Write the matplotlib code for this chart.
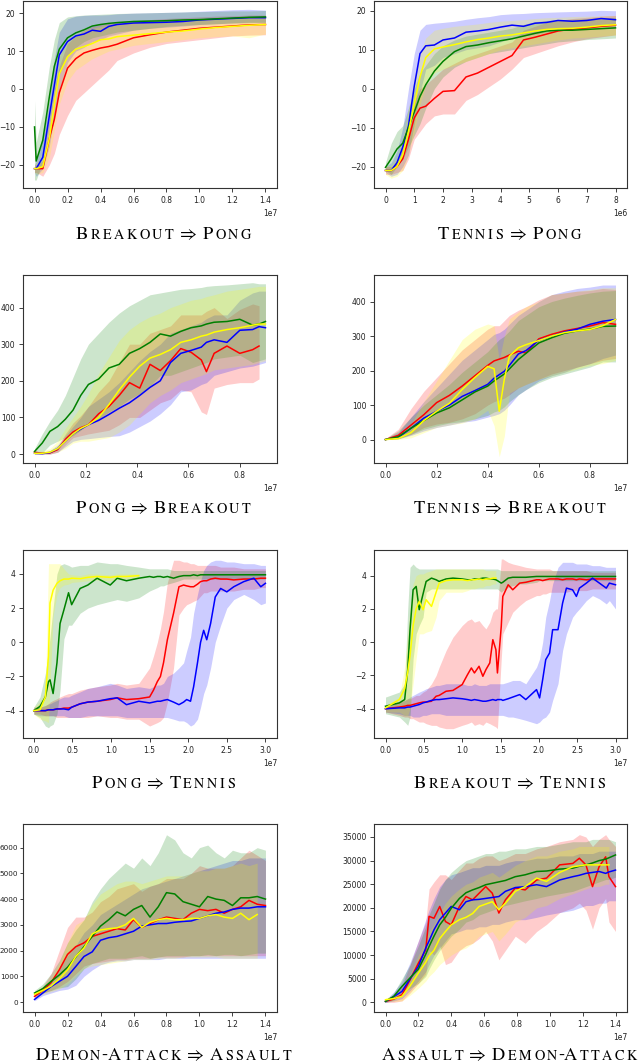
import numpy as np
import matplotlib
matplotlib.use("Agg")
import matplotlib.pyplot as plt
import matplotlib.transforms as mtransforms
from matplotlib.ticker import ScalarFormatter
from matplotlib.font_manager import findfont, FontProperties
from matplotlib.ft2font import FT2Font, LoadFlags

# ---------------------------------------------------------------- data
# x positions in millions of steps; each series: mean, lower band, upper band

# Breakout => Pong
BP_X = [0, 0.1, 0.5, 0.9, 1.2, 1.5, 2.0, 2.5, 3.0, 3.5, 4.0, 4.5, 5.0, 6.0, 7.0, 8.0, 9.0, 10.0, 11.0, 12.0, 13.0, 14.0]
BP_RED = [-21, -21, -21, -13, -8, -1, 5.5, 8, 9.5, 10.2, 10.8, 11.2, 11.8, 13.5, 14.3, 15.0, 15.5, 16.0, 16.3, 16.6, 16.9, 17.0]
BP_RED_LO = [-22, -22, -23, -20, -17, -12, -7, -3, -1, 1, 3, 5, 7.5, 9.5, 11, 12, 12.5, 13, 13.5, 14, 14.2, 14.3]
BP_RED_HI = [-20, -20, -19, -8, 0, 6, 12, 14, 15.5, 16.5, 17, 17.3, 17.6, 18, 18.3, 18.6, 18.8, 19, 19.2, 19.3, 19.5, 19.5]
BP_BLUE = [-21, -21, -18, -7, 1, 9, 12.5, 14.0, 14.5, 15.5, 15.2, 16.5, 17.0, 17.4, 17.5, 17.6, 17.8, 18.2, 18.4, 18.6, 18.8, 18.8]
BP_BLUE_LO = [-22, -23, -21, -15, -7, 0, 7, 10, 11, 12.5, 13, 14, 14.5, 15.5, 16, 16.3, 16.6, 17, 17.2, 17.4, 17.6, 17.6]
BP_BLUE_HI = [-20, -19, -13, -3, 8, 15, 18.5, 19.2, 19.4, 19.5, 19.5, 19.6, 19.8, 20, 20.1, 20.2, 20.3, 20.5, 20.7, 20.9, 21.0, 20.8]
BP_GREEN = [-10, -19, -13.5, -2, 6, 10.5, 13.5, 14.8, 15.6, 16.6, 17.0, 17.3, 17.5, 17.8, 17.9, 18.0, 18.2, 18.3, 18.5, 18.7, 18.9, 19.0]
BP_GREEN_LO = [-24, -24, -19, -9, -1, 4, 9, 11, 12.5, 13.5, 14, 14.5, 15, 15.5, 16, 16.5, 16.8, 17, 17.2, 17.4, 17.5, 17.5]
BP_GREEN_HI = [-3, -14, -6, 6, 13, 17.5, 19, 19.3, 19.5, 19.6, 19.7, 19.8, 19.9, 20.0, 20.1, 20.2, 20.3, 20.4, 20.5, 20.6, 20.6, 20.7]
BP_YELLOW = [-21, -21, -20.5, -13, -4, 4, 8.5, 10.5, 11.2, 12.0, 13.0, 13.2, 13.8, 14.2, 14.6, 15.0, 15.3, 15.8, 16.2, 16.5, 16.8, 17.0]
BP_YELLOW_LO = [-22, -22.5, -22, -18, -11, -4, 2, 5, 6.5, 8, 9, 10, 10.5, 11.5, 12, 12.5, 13, 13.5, 13.8, 14, 13.5, 14.5]
BP_YELLOW_HI = [-20, -19.5, -18, -8, 2, 9, 13, 14.5, 15.5, 16, 16.5, 17, 17.3, 17.6, 17.8, 18, 18.2, 18.4, 18.6, 18.8, 19, 19.2]

# Tennis => Pong
TP_X = [0, 0.2, 0.4, 0.6, 0.8, 1.0, 1.2, 1.4, 1.7, 2.0, 2.4, 2.8, 3.2, 3.6, 4.0, 4.4, 4.8, 5.2, 5.6, 6.0, 6.5, 7.0, 7.5, 8.0]
TP_RED = [-21, -21, -20, -18, -13, -7.5, -5, -4.5, -2.5, -0.7, -0.5, 3, 4.0, 5.5, 7, 8.5, 12.5, 13.2, 14, 14.8, 15.3, 15.6, 16, 16.3]
TP_RED_LO = [-22, -22, -21.5, -21, -18, -13, -11, -9, -7, -6.5, -6.5, -3, -1.5, 0.5, 2.5, 5, 8, 9, 10, 11, 12, 12.8, 13.3, 13.8]
TP_RED_HI = [-20, -20, -19, -15, -9, -3, 0, 1, 3, 5, 6.5, 8, 9, 10, 11, 12, 15, 16, 17, 17.5, 18, 18.3, 18.6, 18.8]
TP_BLUE = [-21, -21, -19, -15, -9.5, 0.6, 9, 11, 11.2, 12.5, 13, 14.5, 14.8, 15.2, 15.8, 16.3, 16.0, 16.8, 17.0, 17.5, 17.3, 17.5, 18.0, 17.7]
TP_BLUE_LO = [-21.5, -22.5, -22, -20, -17, -9, -1, 5, 6, 8, 9, 10, 10.5, 11, 12, 13, 13.5, 14, 14.5, 15, 15.5, 15.5, 16, 15.8]
TP_BLUE_HI = [-20, -19, -16, -10, 0, 9, 15, 16.5, 16.8, 17, 17.3, 17.8, 18.2, 18.5, 19, 19.2, 19.3, 19.5, 19.6, 19.7, 19.8, 19.9, 20.1, 20.0]
TP_GREEN = [-20.2, -18, -15.5, -14, -10, -6, -2, 1, 4.5, 7, 9.5, 10.8, 11.2, 11.8, 12.3, 12.8, 13.5, 14.2, 14.8, 15.0, 15.0, 15.2, 15.4, 15.6]
TP_GREEN_LO = [-21, -22, -20, -18, -15, -12, -9, -5, 0, 3, 5.5, 7, 8, 9, 9.5, 10, 10.5, 11, 11.5, 12, 12.3, 12.6, 12.8, 13]
TP_GREEN_HI = [-19, -14, -11, -9.5, -5, 0, 4, 6, 9, 11, 12.5, 13.5, 14, 14.5, 15, 15.5, 16.5, 17.2, 17.5, 17.7, 17.8, 18, 18.2, 18.3]
TP_YELLOW = [-21, -21, -20, -17, -11, -4, 3, 8, 10.2, 10.7, 11.3, 12.0, 12.6, 13, 13.5, 13.8, 14.3, 14.8, 15.2, 15.4, 15.5, 15.8, 16.2, 16.4]
TP_YELLOW_LO = [-22, -23, -22.5, -21, -17, -11, -4, 1, 4, 5, 6, 7, 8, 9, 10, 10.5, 11, 11.5, 12, 12.5, 13, 13.2, 13.5, 13.8]
TP_YELLOW_HI = [-20, -19.5, -18, -13, -5, 3, 9, 13, 15, 15.5, 16, 16.3, 16.6, 17, 17.3, 17.5, 17.7, 18, 18.2, 18.3, 18.5, 18.6, 18.7, 18.8]

# Pong => Breakout
PB_X = [0, 0.3, 0.6, 0.9, 1.2, 1.5, 1.8, 2.1, 2.5, 2.9, 3.3, 3.7, 4.1, 4.5, 4.9, 5.3, 5.7, 6.1, 6.5, 6.7, 7.0, 7.5, 8.0, 8.5, 8.75, 9.0]
PB_RED = [5, 2, 3, 12, 40, 60, 72, 80, 110, 130, 160, 195, 180, 245, 228, 255, 288, 278, 257, 225, 275, 295, 275, 285, 295]
PB_RED_LO = [0, 0, 0, 5, 25, 45, 50, 55, 60, 65, 80, 100, 100, 120, 140, 150, 175, 170, 115, 108, 180, 190, 195, 195, 205]
PB_RED_HI = [8, 5, 8, 20, 55, 85, 105, 130, 170, 200, 250, 300, 300, 330, 340, 350, 380, 380, 380, 390, 400, 370, 395, 410, 405]
PB_BLUE = [2, 1, 4, 15, 35, 55, 68, 80, 92, 108, 125, 140, 160, 182, 200, 250, 275, 283, 292, 305, 312, 305, 338, 340, 348, 345]
PB_BLUE_LO = [0, 0, 0, 5, 20, 35, 40, 42, 45, 48, 50, 60, 75, 90, 110, 135, 170, 175, 190, 195, 215, 225, 235, 240, 245, 250]
PB_BLUE_HI = [5, 5, 10, 25, 50, 75, 100, 130, 150, 170, 195, 225, 255, 280, 300, 330, 340, 350, 360, 370, 380, 380, 420, 440, 445, 445]
PB_GREEN = [7, 30, 62, 75, 95, 120, 160, 190, 205, 235, 245, 275, 288, 305, 328, 322, 335, 345, 350, 355, 360, 362, 368, 352, 355, 362]
PB_GREEN_LO = [0, 3, 25, 35, 45, 50, 65, 85, 95, 115, 130, 150, 165, 185, 215, 215, 225, 235, 245, 250, 260, 265, 270, 250, 255, 260]
PB_GREEN_HI = [15, 55, 90, 120, 160, 210, 260, 300, 330, 360, 385, 405, 420, 435, 440, 445, 450, 452, 455, 458, 460, 462, 465, 468, 465, 465]
PB_YELLOW = [2, 2, 5, 15, 35, 55, 70, 80, 100, 135, 175, 210, 240, 262, 272, 285, 305, 312, 322, 325, 333, 340, 345, 352, 355, 355]
PB_YELLOW_LO = [0, 0, 0, 5, 15, 30, 35, 35, 40, 45, 60, 80, 110, 140, 160, 175, 195, 205, 215, 220, 230, 235, 240, 245, 250, 255]
PB_YELLOW_HI = [5, 8, 15, 35, 70, 100, 130, 165, 220, 265, 310, 340, 360, 375, 385, 400, 410, 420, 425, 430, 435, 445, 450, 455, 458, 458]

# Tennis => Breakout
TB_X = [0, 0.5, 1.0, 1.5, 2.0, 2.5, 3.0, 3.5, 4.0, 4.25, 4.45, 4.65, 4.85, 5.2, 5.5, 6.0, 6.5, 7.0, 7.5, 8.0, 8.5, 9.0]
TB_RED = [0, 12, 42, 72, 107, 128, 155, 185, 215, 228, 233, 238, 245, 256, 251, 292, 305, 315, 322, 329, 339, 334]
TB_RED_LO = [0, 3, 15, 35, 45, 50, 60, 75, 100, 110, 115, 120, 130, 150, 160, 175, 190, 200, 210, 220, 230, 235]
TB_RED_HI = [3, 30, 90, 140, 180, 220, 260, 290, 320, 330, 330, 345, 360, 375, 385, 405, 420, 425, 430, 432, 438, 435]
TB_BLUE = [0, 6, 33, 62, 82, 100, 125, 142, 160, 178, 188, 198, 215, 248, 258, 288, 300, 312, 320, 334, 343, 348]
TB_BLUE_LO = [0, 2, 12, 25, 35, 42, 50, 55, 65, 70, 75, 85, 100, 130, 145, 170, 185, 195, 210, 220, 235, 245]
TB_BLUE_HI = [3, 20, 65, 110, 150, 190, 230, 260, 290, 305, 310, 320, 335, 360, 375, 400, 420, 430, 438, 442, 448, 448]
TB_GREEN = [0, 8, 33, 55, 77, 92, 115, 138, 155, 170, 180, 190, 205, 232, 250, 280, 295, 308, 315, 320, 328, 329]
TB_GREEN_LO = [0, 2, 15, 30, 40, 48, 52, 60, 70, 80, 85, 95, 110, 130, 145, 165, 180, 190, 200, 210, 225, 225]
TB_GREEN_HI = [3, 25, 65, 100, 130, 160, 195, 225, 255, 275, 290, 300, 315, 345, 360, 385, 400, 410, 418, 425, 430, 432]
TB_YELLOW = [0, 3, 20, 55, 82, 105, 145, 180, 212, 205, 82, 175, 242, 266, 275, 287, 300, 310, 315, 319, 330, 348]
TB_YELLOW_LO = [0, 0, 5, 20, 35, 42, 48, 60, 85, 40, -50, 10, 135, 150, 160, 175, 185, 195, 205, 215, 220, 230]
TB_YELLOW_HI = [3, 12, 45, 110, 170, 230, 290, 320, 335, 330, 230, 300, 350, 370, 385, 400, 420, 425, 430, 435, 440, 440]

# Pong => Tennis
PT_X = [0, 0.8, 1.5, 1.9, 2.1, 2.5, 3.0, 3.4, 3.9, 4.5, 4.9, 6.0, 7.0, 8.2, 9.9, 10.8, 12.0, 13.6, 15.0, 15.5,
        16.0, 16.4, 16.8, 17.3, 18.1, 18.8, 19.4, 19.8, 20.3, 20.7, 21.2, 21.6, 22.0, 22.4, 22.9, 23.5, 24.2, 25.0,
        25.9, 27.2, 28.5, 29.4, 30.0]
PT_RED = [-4, -4, -4, -3.95, -3.95, -3.95, -3.9, -3.9, -3.85, -3.85, -3.8, -3.6, -3.5, -3.45, -3.35, -3.25, -3.35,
          -3.3, -3.2, -2.8, -2.3, -2.0, -1.2, 0.15, 1.7, 3.25, 3.35, 3.3, 3.25, 3.25, 3.4, 3.55, 3.6, 3.6, 3.7,
          3.75, 3.7, 3.7, 3.65, 3.7, 3.7, 3.75, 3.75]
PT_RED_LO = [-4.2, -4.2, -4.3, -4.3, -4.3, -4.3, -4.4, -4.4, -4.4, -4.4, -4.4, -4.4, -4.4, -4.3, -4.4, -4.4, -4.5,
             -4.5, -4.9, -4.8, -4.7, -4.6, -4.4, -3.5, -1.5, 1.6, 2.0, 2.2, 2.3, 2.4, 2.5, 2.7, 2.9, 2.9, 3.0, 3.0,
             3.0, 3.0, 3.0, 3.1, 3.1, 3.2, 3.2]
PT_RED_HI = [-3.8, -3.8, -3.7, -3.6, -3.5, -3.4, -3.3, -3.2, -3.1, -3.0, -3.0, -2.8, -2.7, -2.6, -2.5, -2.4, -2.5,
             -2.4, -1.5, -0.8, 0, 0.8, 1.8, 3.5, 4.8, 4.8, 4.7, 4.7, 4.6, 4.6, 4.5, 4.5, 4.5, 4.5, 4.5, 4.5, 4.4,
             4.4, 4.4, 4.3, 4.3, 4.3, 4.3]
PT_BLUE = [-4, -4, -4, -3.95, -3.95, -3.95, -3.9, -3.9, -3.9, -3.95, -3.8, -3.6, -3.5, -3.45, -3.3, -3.25, -3.65,
           -3.45, -3.55, -3.5, -3.45, -3.45, -3.4, -3.35, -3.5, -3.65, -3.5, -3.35, -3.45, -2.6, -1.2, 0, 0.7, 0.15,
           1.1, 2.65, 3.15, 2.95, 3.25, 3.55, 3.75, 3.25, 3.45]
PT_BLUE_LO = [-4.2, -4.3, -4.3, -4.3, -4.3, -4.3, -4.3, -4.3, -4.3, -4.4, -4.4, -4.4, -4.3, -4.3, -4.3, -4.3, -4.4,
              -4.4, -4.4, -4.4, -4.4, -4.4, -4.4, -4.4, -4.5, -4.6, -4.6, -4.7, -4.9, -4.8, -4.5, -3.8, -3.0, -2.5,
              -1.5, 0.0, 1.0, 2.0, 2.5, 2.8, 2.5, 2.2, 2.3]
PT_BLUE_HI = [-3.8, -3.8, -3.7, -3.6, -3.6, -3.5, -3.4, -3.3, -3.2, -3.2, -3.1, -2.9, -2.7, -2.6, -2.4, -2.5, -2.7,
              -2.6, -2.7, -2.6, -2.5, -2.5, -2.4, -2.0, -1.8, -1.5, -1.2, -0.5, 0.3, 1.7, 2.8, 3.6, 4.2, 4.5, 4.7,
              4.8, 4.8, 4.7, 4.7, 4.6, 4.6, 4.5, 4.5]
PT_GREEN = [-4, -3.75, -3.2, -2.3, -2.2, -3.0, -1.2, 1.1, 1.9, 2.9, 2.2, 3.15, 3.35, 3.75, 3.35, 3.75, 3.6, 3.75,
            3.85, 3.8, 3.85, 3.85, 3.8, 3.85, 3.75, 3.85, 3.9, 3.9, 3.9, 3.95, 3.9, 3.95, 3.95, 3.95, 3.95, 3.95,
            3.95, 3.95, 3.95, 3.95, 3.95, 3.95, 3.95]
PT_GREEN_LO = [-4.2, -4.4, -4.9, -5.0, -4.9, -4.8, -4.2, -2.8, 0.2, 1.0, 1.0, 1.7, 2.0, 2.2, 2.4, 2.5, 2.4, 2.6,
               3.0, 3.1, 3.2, 3.3, 3.3, 3.4, 3.5, 3.6, 3.7, 3.7, 3.7, 3.7, 3.7, 3.7, 3.7, 3.7, 3.7, 3.7, 3.7, 3.7,
               3.7, 3.7, 3.7, 3.7, 3.7]
PT_GREEN_HI = [-3.8, -3.2, -1.8, -0.5, 0.3, 2.0, 4.0, 4.5, 4.6, 4.5, 4.4, 4.5, 4.5, 4.7, 4.6, 4.6, 4.5, 4.4, 4.3,
               4.3, 4.3, 4.3, 4.3, 4.3, 4.2, 4.2, 4.2, 4.2, 4.2, 4.2, 4.2, 4.2, 4.2, 4.2, 4.2, 4.2, 4.2, 4.2, 4.2,
               4.2, 4.2, 4.2, 4.2]
PT_YELLOW = [-4, -3.95, -3.2, -0.8, 2.3, 3.05, 3.45, 3.6, 3.7, 3.7, 3.75, 3.72, 3.8, 3.85, 3.8, 3.85, 3.85, 3.9]
PT_YELLOW_LO = [-4.2, -4.5, -4.6, -4.7, -2.5, 1.5, 2.8, 3.2, 3.35, 3.4, 3.5, 3.55, 3.6, 3.65, 3.6, 3.7, 3.7, 3.75]
PT_YELLOW_HI = [-3.8, -3.5, -2.8, 4.6, 4.6, 4.6, 4.6, 4.6, 4.3, 4.0, 3.95, 3.9, 4.0, 4.0, 3.95, 4.0, 4.0, 4.0]

# Breakout => Tennis
BT_X = [0, 1.8, 2.5, 2.9, 3.2, 3.6, 4.0, 4.4, 4.9, 5.3, 6.0, 6.6, 7.0, 7.9, 8.8, 10.0, 10.7, 11.2, 11.6, 12.2,
        12.7, 13.1, 13.6, 14.0, 14.4, 14.6, 15.1, 15.3, 16.0, 16.6, 17.5, 18.3, 19.7, 20.1, 20.5, 20.9, 21.4, 21.8,
        22.5, 23.1, 23.6, 24.4, 24.9, 25.3, 26.2, 27.0, 27.9, 28.8, 29.2, 30.0]
BT_RED = [-4, -3.9, -3.85, -3.8, -3.8, -3.75, -3.7, -3.65, -3.6, -3.6, -3.55, -3.25, -3.2, -2.95, -2.9, -2.55,
          -1.95, -1.55, -1.85, -1.45, -2.05, -1.65, -1.25, 0.15, -0.45, -1.85, 0.95, 2.75, 3.45, 3.15, 3.55, 3.6,
          3.75, 3.75, 3.7, 3.75, 3.8, 3.8, 3.8, 3.75, 3.8, 3.8, 3.75, 3.8, 3.75, 3.8, 3.8, 3.8, 3.8, 3.8]
BT_RED_LO = [-4.2, -4.4, -4.5, -4.5, -4.6, -4.6, -4.7, -4.8, -4.8, -4.9, -5.0, -5.0, -5.1, -5.2, -5.2, -5.0, -4.9,
             -4.8, -5.0, -4.9, -5.0, -4.8, -4.9, -5.0, -5.1, -5.2, -1.0, 0.5, 1.2, 1.8, 2.2, 2.5, 2.8, 2.8, 2.9,
             2.9, 3.0, 3.0, 3.0, 3.0, 3.0, 3.1, 3.1, 3.1, 3.1, 3.2, 3.2, 3.2, 3.2, 3.2]
BT_RED_HI = [-3.8, -3.6, -3.5, -3.4, -3.4, -3.3, -3.2, -3.2, -3.0, -2.9, -2.5, -2.0, -1.5, -0.5, 0.3, 1.0, 1.3,
             1.4, 1.2, 1.3, 1.0, 0.8, 1.2, 1.8, 2.0, 2.0, 5.0, 5.0, 4.8, 4.7, 4.6, 4.5, 4.4, 4.4, 4.4, 4.4, 4.4,
             4.3, 4.3, 4.3, 4.3, 4.3, 4.3, 4.3, 4.3, 4.2, 4.2, 4.2, 4.2, 4.2]
BT_BLUE = [-4, -3.95, -3.95, -3.9, -3.9, -3.85, -3.8, -3.75, -3.65, -3.6, -3.5, -3.45, -3.45, -3.4, -3.35, -3.4,
           -3.45, -3.5, -3.45, -3.5, -3.55, -3.55, -3.5, -3.45, -3.5, -3.45, -3.45, -3.5, -3.4, -3.3, -3.15, -3.45,
           -2.85, -3.35, -2.25, -1.05, -0.65, 0.75, 0.75, 2.35, 3.25, 3.15, 2.75, 3.25, 3.55, 3.85, 3.55, 3.25,
           3.55, 3.45]
BT_BLUE_LO = [-4.2, -4.3, -4.4, -4.4, -4.4, -4.5, -4.5, -4.5, -4.4, -4.4, -4.3, -4.3, -4.3, -4.4, -4.4, -4.4, -4.4,
              -4.4, -4.4, -4.4, -4.4, -4.4, -4.4, -4.4, -4.4, -4.4, -4.4, -4.4, -4.5, -4.5, -4.6, -4.7, -4.9, -4.8,
              -4.6, -4.5, -4.2, -3.5, -2.5, -0.5, 0.5, 1.5, 1.8, 2.0, 2.5, 2.8, 2.6, 2.3, 2.5, 2.0]
BT_BLUE_HI = [-3.8, -3.6, -3.5, -3.4, -3.3, -3.2, -3.1, -3.0, -2.9, -2.8, -2.7, -2.6, -2.6, -2.5, -2.5, -2.5, -2.6,
              -2.6, -2.5, -2.6, -2.6, -2.6, -2.5, -2.5, -2.5, -2.5, -2.5, -2.5, -2.4, -2.3, -2.3, -2.5, -1.5, -1.0,
              0.0, 1.5, 2.5, 3.5, 4.5, 4.8, 4.8, 4.8, 4.7, 4.7, 4.7, 4.6, 4.6, 4.5, 4.5, 4.5]
BT_GREEN = [-3.85, -3.65, -3.45, -1.65, 0.75, 3.15, 3.35, 1.95, 2.9, 3.65, 3.85, 3.75, 3.65, 3.8, 3.85, 3.8, 3.75,
            3.75, 3.8, 3.8, 3.85, 3.85, 3.8, 3.8, 3.75, 3.7, 3.55, 3.6, 3.85, 3.9, 3.9, 3.9, 3.95, 3.95, 3.95, 3.95,
            3.95, 3.95, 3.95, 3.95, 3.95, 3.95, 3.95, 3.95, 3.95, 3.95, 3.95, 3.95, 3.95, 3.95]
BT_GREEN_LO = [-4.3, -4.5, -4.8, -5.0, -4.5, -1.0, 0.5, 1.0, 1.5, 3.0, 3.2, 3.2, 3.2, 3.2, 3.2, 3.2, 3.2, 3.2, 3.2,
               3.2, 3.2, 3.2, 3.2, 3.2, 3.2, 3.2, 3.0, 3.1, 3.3, 3.4, 3.5, 3.5, 3.6, 3.7, 3.7, 3.7, 3.7, 3.7, 3.7,
               3.7, 3.7, 3.7, 3.7, 3.7, 3.7, 3.7, 3.7, 3.7, 3.7, 3.7]
BT_GREEN_HI = [-3.3, -3.0, -2.5, 2.0, 4.5, 4.7, 4.5, 4.4, 4.4, 4.4, 4.4, 4.4, 4.4, 4.4, 4.4, 4.4, 4.4, 4.4, 4.4,
               4.4, 4.4, 4.4, 4.4, 4.4, 4.4, 4.4, 4.3, 4.3, 4.3, 4.3, 4.3, 4.3, 4.3, 4.3, 4.3, 4.3, 4.3, 4.3, 4.3,
               4.3, 4.3, 4.3, 4.3, 4.3, 4.3, 4.3, 4.3, 4.3, 4.3, 4.3]
BT_YELLOW = [-3.95, -3.45, -2.8, -1.8, -0.8, 1.0, 2.0, 2.45, 1.95, 2.55, 2.15, 3.0, 3.55, 3.7, 3.75, 3.75, 3.7,
             3.75, 3.75, 3.8, 3.75, 3.8, 3.8, 3.85, 3.85]
BT_YELLOW_LO = [-4.2, -4.2, -4.4, -4.4, -4.0, -2.5, -1.0, 0.5, 0.5, 0.6, 0.7, 1.5, 2.5, 3.0, 3.0, 3.0, 3.1, 3.2,
                3.2, 3.3, 3.3, 3.4, 3.4, 3.5, 3.5]
BT_YELLOW_HI = [-3.8, -3.3, -1.5, 0.5, 2.0, 3.5, 4.0, 4.1, 4.1, 4.2, 4.3, 4.4, 4.4, 4.4, 4.4, 4.4, 4.4, 4.4, 4.4,
                4.4, 4.4, 4.3, 4.3, 4.3, 4.3]

# Demon-Attack => Assault
DA_X = [0, 0.5, 1.0, 1.5, 2.0, 2.5, 3.0, 3.5, 4.0, 4.5, 5.0, 5.5, 6.0, 6.5, 7.0, 7.5, 8.0, 8.5, 9.0, 9.5, 10.0,
        10.5, 11.0, 11.5, 12.0, 12.5, 13.0, 13.5, 14.0]
DA_RED = [220, 450, 750, 1250, 1850, 2150, 2300, 2550, 2650, 2750, 2850, 2800, 3200, 2900, 3050, 3200, 3300, 3250,
          3200, 3450, 3600, 3550, 3600, 3450, 3600, 3700, 3950, 3800, 3750]
DA_RED_LO = [150, 350, 450, 600, 800, 1100, 1400, 1500, 1550, 1600, 1650, 1650, 1700, 1700, 1700, 1750, 1750, 1750,
             1750, 1800, 1800, 1800, 1800, 1800, 1800, 1800, 1800, 1800, 1800]
DA_RED_HI = [350, 600, 1100, 2000, 2900, 3300, 3300, 3500, 3900, 4100, 4400, 4500, 4600, 4300, 4500, 4600, 4800,
             4800, 4800, 5000, 5300, 5200, 5200, 5200, 5300, 5600, 5900, 5700, 5500]
DA_BLUE = [100, 350, 600, 800, 1000, 1380, 1770, 1950, 2400, 2500, 2550, 2650, 2750, 2950, 3000, 3050, 3050, 3100,
           3130, 3150, 3250, 3350, 3450, 3500, 3600, 3650, 3650, 3700, 3700]
DA_BLUE_LO = [50, 250, 350, 450, 500, 650, 1000, 1250, 1450, 1550, 1600, 1600, 1650, 1650, 1650, 1650, 1700, 1700,
              1700, 1700, 1700, 1700, 1700, 1700, 1700, 1700, 1700, 1700, 1700]
DA_BLUE_HI = [300, 500, 850, 1300, 1800, 2200, 2700, 3000, 3400, 3600, 3800, 4000, 4200, 4400, 4500, 4600, 4700,
              4800, 4900, 5000, 5100, 5200, 5300, 5400, 5500, 5500, 5600, 5600, 5600]
DA_GREEN = [350, 520, 800, 1050, 1350, 1750, 2150, 2550, 2950, 3200, 3500, 3350, 3600, 3750, 3300, 3700, 4250,
            4200, 3900, 3800, 3700, 4100, 4000, 3950, 3750, 4050, 4050, 4100, 4000]
DA_GREEN_LO = [250, 350, 450, 550, 600, 900, 1300, 1500, 1600, 1700, 1700, 1700, 1750, 1800, 1700, 1750, 1800,
               1800, 1800, 1800, 1800, 1850, 1800, 1850, 1850, 1800, 1850, 1900, 1900]
DA_GREEN_HI = [450, 700, 1100, 1600, 2300, 2800, 3200, 3900, 4400, 4800, 5100, 5400, 5200, 5600, 5300, 5800, 6500,
               6300, 5800, 5600, 6000, 6100, 5800, 5600, 5900, 5800, 5800, 6000, 5900]
DA_YELLOW = [300, 450, 620, 900, 1250, 1770, 2100, 2650, 2800, 2850, 2880, 3000, 3250, 2900, 3100, 3200, 3250,
             3200, 3200, 3250, 3250, 3350, 3400, 3300, 3250, 3450, 3200, 3400]
DA_YELLOW_LO = [200, 300, 400, 500, 700, 1000, 1300, 1400, 1450, 1500, 1550, 1600, 1650, 1650, 1650, 1700, 1700,
                1700, 1750, 1750, 1750, 1750, 1750, 1700, 1700, 1700, 1700, 1700]
DA_YELLOW_HI = [400, 600, 900, 1500, 2300, 3000, 3200, 3800, 4200, 4400, 4600, 4700, 4700, 4600, 4700, 4800, 4900,
                4900, 4900, 5000, 5100, 5100, 5200, 5200, 5300, 5400, 5300, 5400]

# Assault => Demon-Attack
AD_X = [0, 0.5, 1.0, 1.5, 2.0, 2.45, 2.65, 2.95, 3.3, 3.65, 4.0, 4.5, 4.9, 5.3, 5.7, 6.1, 6.5, 6.9, 7.3, 7.9, 8.5,
        9.2, 9.8, 10.6, 11.4, 11.8, 12.2, 12.6, 13.0, 13.4, 13.6, 14.0]
AD_RED = [200, 700, 1600, 4800, 8300, 11100, 18200, 17800, 20300, 17100, 16400, 20300, 22400, 21700, 23100, 24500,
          23100, 18900, 21700, 24200, 23800, 25900, 26300, 29100, 29400, 30500, 29100, 24500, 28700, 30800, 26600,
          24500]
AD_RED_LO = [0, 0, 300, 2000, 4000, 6000, 11000, 10000, 12000, 8000, 8500, 11000, 12000, 12500, 13500, 15000, 13000,
             9000, 11000, 14000, 12500, 15000, 16500, 19000, 20000, 21000, 19500, 15500, 20000, 22000, 17000, 15000]
AD_RED_HI = [600, 1500, 3500, 8000, 13000, 17000, 24000, 25500, 27000, 27000, 26000, 28000, 29500, 29500, 30500,
             31000, 31000, 30000, 30500, 31500, 31500, 32500, 33000, 34000, 34500, 35500, 35000, 33000, 34500, 35500,
             34500, 33000]
AD_BLUE = [200, 1200, 2300, 5000, 7600, 11500, 13000, 15350, 17500, 18900, 20300, 19600, 21300, 21700, 21800, 22000,
           22200, 22400, 23500, 24300, 24500, 24900, 24500, 25900, 26600, 26900, 27300, 27500, 27700, 27300, 27600,
           28000]
AD_BLUE_LO = [0, 300, 800, 2500, 4500, 6500, 8000, 10000, 11500, 13000, 14500, 15000, 15500, 15500, 16000, 16000,
              16500, 16500, 17000, 17500, 17500, 18000, 18500, 19000, 19500, 20000, 20500, 20500, 21000, 21000,
              21500, 21500]
AD_BLUE_HI = [500, 2200, 4500, 8500, 13000, 17500, 19500, 22000, 24500, 26000, 27000, 27500, 28000, 28500, 28500,
              29000, 29000, 29000, 29500, 30000, 30000, 30500, 30500, 31000, 31000, 31500, 31500, 31500, 32000,
              32000, 32000, 32000]
AD_GREEN = [200, 1270, 3380, 5200, 7000, 10200, 11800, 14000, 16400, 18000, 19900, 22000, 23200, 23800, 24300,
            24900, 25200, 25500, 25800, 26600, 27000, 27700, 27800, 28200, 28400, 28800, 29100, 29500, 30000, 30300,
            30600, 31200]
AD_GREEN_LO = [0, 500, 1800, 3000, 4000, 5500, 7000, 9000, 11000, 12500, 14000, 15500, 17000, 17500, 18500, 19000,
               19500, 20000, 20500, 21000, 21500, 22000, 22500, 23000, 23500, 24000, 24500, 25000, 25500, 26000,
               26000, 26500]
AD_GREEN_HI = [500, 2000, 5000, 8000, 12000, 16000, 18500, 21000, 24000, 26000, 27500, 29000, 30000, 30500, 31000,
               31500, 31500, 32000, 32000, 32500, 32500, 33000, 33000, 33500, 34000, 34000, 34000, 34500, 34500,
               34500, 34500, 34000]
AD_YELLOW = [560, 800, 1270, 3500, 6200, 8500, 9800, 11000, 13500, 15000, 16400, 17500, 18000, 18800, 20300, 20800,
             21300, 19600, 21000, 23500, 24500, 26300, 25600, 27500, 28700, 28900, 29100, 29100, 29100, 29100, 29100]
AD_YELLOW_LO = [200, 200, 300, 1500, 3000, 4500, 5500, 6500, 8000, 9000, 10000, 11000, 11500, 12500, 14000, 14500,
                15000, 13000, 14500, 17000, 18000, 20000, 20500, 22000, 23000, 23500, 24000, 24500, 24500, 25000,
                25000]
AD_YELLOW_HI = [900, 1500, 2500, 6000, 10000, 13000, 15000, 16500, 19000, 21000, 22500, 24000, 25000, 25500, 26500,
                27000, 27500, 26500, 27500, 29000, 30000, 31000, 31000, 32000, 32500, 33000, 33000, 33000, 33000,
                33000, 33000]

COLORS = ["red", "blue", "green", "#ffff00"]

PANELS = [
    dict(src="Breakout", dst="Pong", x=BP_X,
         series=[(BP_RED, BP_RED_LO, BP_RED_HI), (BP_BLUE, BP_BLUE_LO, BP_BLUE_HI),
                 (BP_GREEN, BP_GREEN_LO, BP_GREEN_HI), (BP_YELLOW, BP_YELLOW_LO, BP_YELLOW_HI)],
         xlim=(-0.7e6, 14.7e6), ylim=(-26.1, 23.2),
         xticks=[0, 2e6, 4e6, 6e6, 8e6, 10e6, 12e6, 14e6], yticks=[-20, -10, 0, 10, 20], power=7),
    dict(src="Tennis", dst="Pong", x=TP_X,
         series=[(TP_RED, TP_RED_LO, TP_RED_HI), (TP_BLUE, TP_BLUE_LO, TP_BLUE_HI),
                 (TP_GREEN, TP_GREEN_LO, TP_GREEN_HI), (TP_YELLOW, TP_YELLOW_LO, TP_YELLOW_HI)],
         xlim=(-0.4e6, 8.4e6), ylim=(-25.5, 22.5),
         xticks=[0, 1e6, 2e6, 3e6, 4e6, 5e6, 6e6, 7e6, 8e6], yticks=[-20, -10, 0, 10, 20], power=6),
    dict(src="Pong", dst="Breakout", x=PB_X,
         series=[(PB_RED, PB_RED_LO, PB_RED_HI), (PB_BLUE, PB_BLUE_LO, PB_BLUE_HI),
                 (PB_GREEN, PB_GREEN_LO, PB_GREEN_HI), (PB_YELLOW, PB_YELLOW_LO, PB_YELLOW_HI)],
         xlim=(-0.45e6, 9.45e6), ylim=(-24.5, 489),
         xticks=[0, 2e6, 4e6, 6e6, 8e6], yticks=[0, 100, 200, 300, 400], power=7),
    dict(src="Tennis", dst="Breakout", x=TB_X,
         series=[(TB_RED, TB_RED_LO, TB_RED_HI), (TB_BLUE, TB_BLUE_LO, TB_BLUE_HI),
                 (TB_GREEN, TB_GREEN_LO, TB_GREEN_HI), (TB_YELLOW, TB_YELLOW_LO, TB_YELLOW_HI)],
         xlim=(-0.45e6, 9.45e6), ylim=(-68, 477),
         xticks=[0, 2e6, 4e6, 6e6, 8e6], yticks=[0, 100, 200, 300, 400], power=7),
    dict(src="Pong", dst="Tennis", x=PT_X,
         series=[(PT_RED, PT_RED_LO, PT_RED_HI), (PT_BLUE, PT_BLUE_LO, PT_BLUE_HI),
                 (PT_GREEN, PT_GREEN_LO, PT_GREEN_HI), (PT_YELLOW, PT_YELLOW_LO, PT_YELLOW_HI)],
         xlim=(-1.4e6, 31.5e6), ylim=(-5.6, 5.4),
         xticks=[0, 5e6, 10e6, 15e6, 20e6, 25e6, 30e6], yticks=[-4, -2, 0, 2, 4], power=7),
    dict(src="Breakout", dst="Tennis", x=BT_X,
         series=[(BT_RED, BT_RED_LO, BT_RED_HI), (BT_BLUE, BT_BLUE_LO, BT_BLUE_HI),
                 (BT_GREEN, BT_GREEN_LO, BT_GREEN_HI), (BT_YELLOW, BT_YELLOW_LO, BT_YELLOW_HI)],
         xlim=(-1.5e6, 31.5e6), ylim=(-5.76, 5.54),
         xticks=[0, 5e6, 10e6, 15e6, 20e6, 25e6, 30e6], yticks=[-4, -2, 0, 2, 4], power=7),
    dict(src="Demon-Attack", dst="Assault", x=DA_X,
         series=[(DA_RED, DA_RED_LO, DA_RED_HI), (DA_BLUE, DA_BLUE_LO, DA_BLUE_HI),
                 (DA_GREEN, DA_GREEN_LO, DA_GREEN_HI), (DA_YELLOW, DA_YELLOW_LO, DA_YELLOW_HI)],
         xlim=(-0.7e6, 14.7e6), ylim=(-388, 6918),
         xticks=[0, 2e6, 4e6, 6e6, 8e6, 10e6, 12e6, 14e6], yticks=[0, 1000, 2000, 3000, 4000, 5000, 6000], power=7),
    dict(src="Assault", dst="Demon-Attack", x=AD_X,
         series=[(AD_RED, AD_RED_LO, AD_RED_HI), (AD_BLUE, AD_BLUE_LO, AD_BLUE_HI),
                 (AD_GREEN, AD_GREEN_LO, AD_GREEN_HI), (AD_YELLOW, AD_YELLOW_LO, AD_YELLOW_HI)],
         xlim=(-0.7e6, 14.7e6), ylim=(-2040, 37750),
         xticks=[0, 2e6, 4e6, 6e6, 8e6, 10e6, 12e6, 14e6],
         yticks=[0, 5000, 10000, 15000, 20000, 25000, 30000, 35000], power=7),
]

# ---------------------------------------------------------------- layout
W, H, DPI = 640, 1063, 100
fig = plt.figure(figsize=(W / DPI, H / DPI), dpi=DPI)

COL_X = [(23, 277), (374, 627)]
ROW_Y = [(1, 188), (275, 463), (550, 738), (824, 1012)]
CAP_BASE = [239, 513, 788, 1060]
CAP_CX = [163, 509]

for i, p in enumerate(PANELS):
    r, c = divmod(i, 2)
    x0, x1 = COL_X[c]
    y0, y1 = ROW_Y[r]
    ax = fig.add_axes([x0 / W, 1 - y1 / H, (x1 - x0) / W, (y1 - y0) / H])
    X = np.asarray(p["x"], dtype=float) * 1e6
    for color, (m, lo, hi) in zip(COLORS, p["series"]):
        n = len(m)
        ax.fill_between(X[:n], lo, hi, color=color, alpha=0.2, linewidth=0)
    for color, (m, lo, hi) in zip(COLORS, p["series"]):
        n = len(m)
        ax.plot(X[:n], m, color=color, lw=1.1)
    ax.set_xlim(*p["xlim"])
    ax.set_ylim(*p["ylim"])
    ax.set_xticks(p["xticks"])
    ax.set_yticks(p["yticks"])
    fmt = ScalarFormatter()
    fmt.set_powerlimits((p["power"], p["power"]))
    ax.xaxis.set_major_formatter(fmt)
    ax.tick_params(labelsize=5.5, length=3, width=0.6, pad=2.5, colors="#222222")
    if i == 6:
        ax.tick_params(axis="y", labelsize=5.2, length=2.2, pad=1.2)
    ax.xaxis.get_offset_text().set_fontsize(5.5)
    ax.xaxis.get_offset_text().set_color("#222222")
    for s in ax.spines.values():
        s.set_linewidth(0.8)
        s.set_color("#333333")


# ---------------------------------------------------------------- captions (small caps)
CAP_FAMILY = "STIXGeneral"
BIG, SMALL = 13.2, 10.3
TRACK = 2.4          # extra letter spacing (px)
ARROW_SPACE = (5.5, 6.5)
ident = mtransforms.IdentityTransform()
font_path = findfont(FontProperties(family=CAP_FAMILY))


def glyph_metrics(ch, size):
    f = FT2Font(font_path)
    f.set_size(size, DPI)
    g = f.load_char(ord(ch), flags=LoadFlags.NO_HINTING)
    return g.horiBearingX / 64.0, g.linearHoriAdvance / 65536.0


for i, p in enumerate(PANELS):
    r, c = divmod(i, 2)
    base = H - CAP_BASE[r]
    seq = [(ch.upper(), not ch.islower()) for ch in p["src"]] + [("\u21d2", True)] + \
          [(ch.upper(), not ch.islower()) for ch in p["dst"]]
    arrow_idx = len(p["src"])
    pen = 0.0
    placed = []
    for k, (ch, big) in enumerate(seq):
        size = BIG if big else SMALL
        bx, adv = glyph_metrics(ch, size)
        if k == arrow_idx:
            pen += ARROW_SPACE[0]
        elif k == arrow_idx + 1:
            pen += ARROW_SPACE[1]
        elif k > 0:
            pen += TRACK if (seq[k - 1][0] != "-" and ch != "-") else 0.6
        placed.append((ch, size, pen + bx))
        pen += adv
    x_start = CAP_CX[c] - pen / 2
    for ch, size, xx in placed:
        fig.text(x_start + xx, base, ch, fontsize=size, family=CAP_FAMILY,
                 va="baseline", ha="left", transform=ident, color="black")

fig.savefig("out.png", dpi=DPI)
